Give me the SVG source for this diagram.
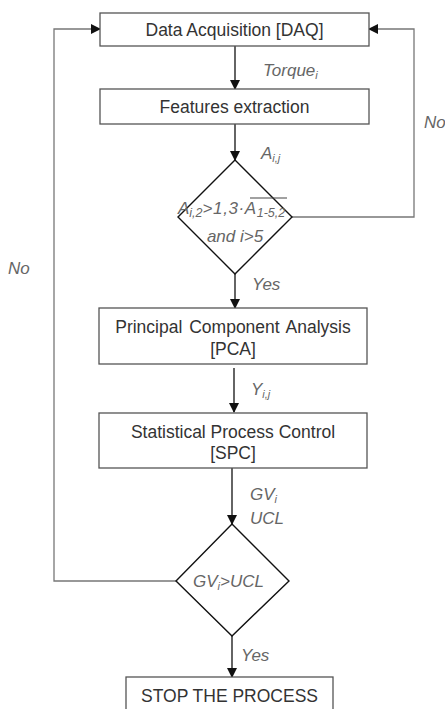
<svg xmlns="http://www.w3.org/2000/svg" width="445" height="709" viewBox="0 0 445 709">
<style>
.box{fill:#fff;stroke:#555;stroke-width:1.3}
.dia{fill:#fff;stroke:#111;stroke-width:1.4}
.t{font-family:"Liberation Sans",Arial,sans-serif;font-size:17.5px;fill:#333;text-anchor:middle}
.l{font-family:"Liberation Sans",Arial,sans-serif;font-size:17px;fill:#666;font-style:italic}
.s{font-size:11px}
.s2{font-size:12.5px}
.a{stroke:#111;stroke-width:1.3;fill:none}
.g{stroke:#777;stroke-width:1.3;fill:none}
</style>
<defs>
<marker id="ah" markerWidth="10" markerHeight="10" refX="9" refY="5" orient="auto" markerUnits="userSpaceOnUse">
<path d="M0,0 L10,5 L0,10 Z" fill="#111"/>
</marker>
</defs>
<g id="connectors">
<line class="a" x1="235" y1="46" x2="235" y2="89" marker-end="url(#ah)"/>
<line class="a" x1="235" y1="124" x2="235" y2="160" marker-end="url(#ah)"/>
<line class="a" x1="235" y1="274" x2="235" y2="308" marker-end="url(#ah)"/>
<line class="a" x1="234" y1="368" x2="234" y2="412" marker-end="url(#ah)"/>
<line class="a" x1="232" y1="468" x2="232" y2="524" marker-end="url(#ah)"/>
<line class="a" x1="232" y1="636" x2="232" y2="677" marker-end="url(#ah)"/>
<polyline class="g" points="176,581 54,581 54,29 100,29" marker-end="url(#ah)"/>
<polyline class="g" points="292,217 414,217 414,29 369,29" marker-end="url(#ah)"/>
<text class="l" x="263" y="76">Torque<tspan class="s" dy="3">i</tspan></text>
<text class="l" x="261" y="159">A<tspan class="s" dy="3">i,j</tspan></text>
<text class="l" x="424" y="128">No</text>
<text class="l" x="8" y="274">No</text>
<text class="l" x="252" y="290">Yes</text>
<text class="l" x="251" y="395">Y<tspan class="s" dy="3">i,j</tspan></text>
<text class="l" x="250" y="500">GV<tspan class="s" dy="3">i</tspan></text>
<text class="l" x="250" y="524">UCL</text>
<text class="l" x="241" y="661">Yes</text>
</g>
<g id="daq">
<rect class="box" x="100" y="13" width="269" height="33"/>
<text class="t" x="234.5" y="36">Data Acquisition [DAQ]</text>
</g>
<g id="features">
<rect class="box" x="100" y="89" width="269" height="35"/>
<text class="t" x="234.5" y="113">Features extraction</text>
</g>
<g id="decision1">
<polygon class="dia" points="235,160 292,217 235,274 178,217"/>
<text class="l" x="178" y="214">A<tspan class="s2" dy="3">i,2</tspan><tspan dy="-3" letter-spacing="0.6">&gt;1,3·A</tspan><tspan class="s2" dy="3">1-5,2</tspan></text>
<line x1="250" y1="198" x2="287" y2="198" stroke="#444" stroke-width="1.2"/>
<text class="l" x="235" y="242" text-anchor="middle">and i&gt;5</text>
</g>
<g id="pca">
<rect class="box" x="99" y="308" width="268" height="56"/>
<text class="t" x="233" y="333" word-spacing="2">Principal Component Analysis</text>
<text class="t" x="233" y="355">[PCA]</text>
</g>
<g id="spc">
<rect class="box" x="99" y="413" width="268" height="55"/>
<text class="t" x="233" y="438">Statistical Process Control</text>
<text class="t" x="233" y="459">[SPC]</text>
</g>
<g id="decision2">
<polygon class="dia" points="232,524 289,581 232,636 176,581"/>
<text class="l" x="193" y="587">GV<tspan class="s" dy="3">i</tspan><tspan dy="-3">&gt;UCL</tspan></text>
</g>
<g id="stop">
<rect class="box" x="126" y="677" width="207" height="40"/>
<text class="t" x="229.5" y="702">STOP THE PROCESS</text>
</g>
</svg>
